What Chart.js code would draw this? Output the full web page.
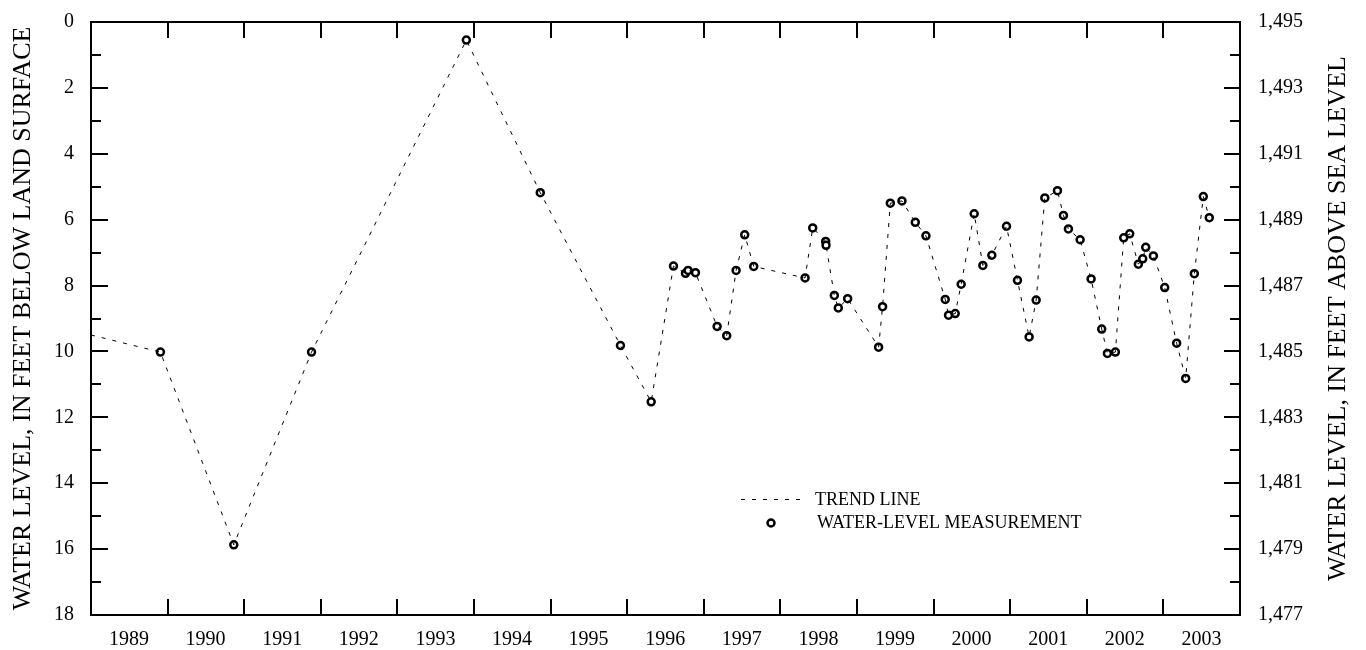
<!DOCTYPE html>
<html lang="en">
<head>
<meta charset="UTF-8">
<title>Water level hydrograph</title>
<script src="https://cdn.jsdelivr.net/npm/chart.js"></script>
<style>
    html, body { margin: 0; padding: 0; background: #fff; }
    #wrap { width: 1366px; height: 650px; }
</style>
</head>
<body>
<div id="wrap"><canvas id="grafico" width="1366" height="650"></canvas></div>
<script>
    // measurement dates (decimal years) and depth to water, ft below land surface
    const measureYears = [
        1989.906, 1990.864, 1991.879, 1993.900, 1994.865, 1995.912, 1996.313,
        1996.604, 1996.761, 1996.795, 1996.891, 1997.174, 1997.299, 1997.422,
        1997.534, 1997.652, 1998.322, 1998.422, 1998.591, 1998.596, 1998.704,
        1998.756, 1998.878, 1999.282, 1999.334, 1999.435, 1999.587, 1999.761,
        1999.900, 2000.152, 2000.195, 2000.282, 2000.360, 2000.530, 2000.643,
        2000.760, 2000.952, 2001.095, 2001.247, 2001.339, 2001.452, 2001.617,
        2001.695, 2001.760, 2001.913, 2002.056, 2002.195, 2002.269, 2002.373,
        2002.482, 2002.560, 2002.673, 2002.730, 2002.769, 2002.869, 2003.017,
        2003.173, 2003.291, 2003.404, 2003.521, 2003.599
    ];
    const measureDepths = [
        10.02, 15.87, 10.02, 0.55, 5.18, 9.82, 11.53,
        7.41, 7.63, 7.54, 7.61, 9.24, 9.52, 7.54,
        6.46, 7.42, 7.77, 6.25, 6.66, 6.78, 8.30,
        8.68, 8.40, 9.87, 8.64, 5.50, 5.43, 6.08,
        6.49, 8.42, 8.90, 8.85, 7.96, 5.82, 7.39,
        7.08, 6.20, 7.84, 9.56, 8.44, 5.34, 5.12,
        5.87, 6.28, 6.61, 7.80, 9.32, 10.06, 10.02,
        6.55, 6.43, 7.35, 7.19, 6.84, 7.10, 8.06,
        9.75, 10.82, 7.64, 5.30, 5.94
    ];
    // trend line comes in from the left edge
    const trendStartYear = 1989.0;
    const trendStartDepth = 9.5;

    const yearLabels = ["1989", "1990", "1991", "1992", "1993", "1994", "1995", "1996",
                        "1997", "1998", "1999", "2000", "2001", "2002", "2003"];
    const depthRange = [0, 18];
    const altitudeRange = [1477, 1495];

    const leftTitle = "WATER LEVEL, IN FEET BELOW LAND SURFACE";
    const rightTitle = "WATER LEVEL, IN FEET ABOVE SEA LEVEL";
    const legendTrend = "TREND LINE";
    const legendPoint = "WATER-LEVEL MEASUREMENT";

    const FONT = '"Liberation Serif", "Times New Roman", serif';

    let puntos = measureYears.map((yr, i) => ({ x: yr, y: measureDepths[i] }));
    let tendencia = [{ x: trendStartYear, y: trendStartDepth }].concat(puntos);

    // frame, inward tick marks, axis titles and the legend box
    const decoracion = {
        id: "decoracion",
        afterDraw(chart) {
            const ctx = chart.ctx;
            const a = chart.chartArea;
            const sx = chart.scales.x, sy = chart.scales.y, sy2 = chart.scales.y2;
            ctx.save();
            ctx.strokeStyle = "#000";
            ctx.lineWidth = 2;
            ctx.strokeRect(a.left, a.top, a.right - a.left, a.bottom - a.top);

            ctx.beginPath();
            for (let yr = 1990; yr < 2004; yr++) {
                let px = Math.round(sx.getPixelForValue(yr));
                ctx.moveTo(px, a.top); ctx.lineTo(px, a.top + 16);
                ctx.moveTo(px, a.bottom); ctx.lineTo(px, a.bottom - 16);
            }
            for (let d = depthRange[0] + 1; d < depthRange[1]; d++) {
                let py = Math.round(sy.getPixelForValue(d));
                ctx.moveTo(a.left, py); ctx.lineTo(a.left + (d % 2 === 0 ? 17 : 10), py);
            }
            for (let e = altitudeRange[0] + 1; e < altitudeRange[1]; e++) {
                let py = Math.round(sy2.getPixelForValue(e));
                ctx.moveTo(a.right, py); ctx.lineTo(a.right - (e % 2 === 1 ? 16 : 10), py);
            }
            ctx.stroke();

            // axis titles, both read bottom to top
            let midY = (a.top + a.bottom) / 2;
            ctx.fillStyle = "#000";
            ctx.font = "26px " + FONT;
            ctx.textAlign = "center";
            ctx.textBaseline = "middle";
            ctx.save();
            ctx.translate(23, midY);
            ctx.rotate(-Math.PI / 2);
            ctx.fillText(leftTitle, 0, 0);
            ctx.restore();
            ctx.save();
            ctx.translate(1338, midY);
            ctx.rotate(-Math.PI / 2);
            ctx.fillText(rightTitle, 0, 0);
            ctx.restore();

            // legend
            ctx.font = "18px " + FONT;
            ctx.textAlign = "left";
            ctx.lineWidth = 1;
            ctx.setLineDash([4, 7]);
            ctx.beginPath();
            ctx.moveTo(741, 499.5); ctx.lineTo(806, 499.5);
            ctx.stroke();
            ctx.setLineDash([]);
            ctx.fillText(legendTrend, 815, 500);
            ctx.lineWidth = 2.5;
            ctx.fillStyle = "#fff";
            ctx.beginPath();
            ctx.arc(771, 523, 3.5, 0, Math.PI * 2);
            ctx.fill(); ctx.stroke();
            ctx.fillStyle = "#000";
            ctx.fillText(legendPoint, 817, 523);
            ctx.restore();
        }
    };

    let ctx = document.getElementById("grafico").getContext("2d");
    let chart = new Chart(ctx, {
        type: "scatter",
        data: {
            datasets: [{
                label: legendTrend,
                data: tendencia,
                showLine: true,
                borderColor: "#000",
                borderWidth: 1,
                borderDash: [4, 7],
                pointRadius: 0,
                yAxisID: "y"
            }, {
                label: legendPoint,
                data: puntos,
                showLine: false,
                pointRadius: 3.5,
                pointBorderWidth: 2.5,
                pointBorderColor: "#000",
                pointBackgroundColor: "#fff",
                yAxisID: "y"
            }]
        },
        options: {
            responsive: false,
            animation: false,
            events: [],
            layout: { padding: { top: 19 } },
            plugins: { legend: { display: false }, tooltip: { enabled: false } },
            scales: {
                x: {
                    type: "linear", position: "bottom", min: 1989, max: 2004,
                    grid: { display: false },
                    border: { display: false },
                    ticks: {
                        stepSize: 1, autoSkip: false, maxRotation: 0,
                        labelOffset: 38, padding: 5, color: "#000",
                        font: { family: FONT, size: 20 },
                        callback: v => yearLabels[Math.round(v) - 1989] || ""
                    },
                    afterFit: s => { s.height = 35; }
                },
                y: {
                    type: "linear", position: "left", reverse: true,
                    min: depthRange[0], max: depthRange[1],
                    grid: { display: false },
                    border: { display: false },
                    ticks: { stepSize: 2, padding: 9, color: "#000", font: { family: FONT, size: 20 } },
                    afterFit: s => { s.width = 91; }
                },
                y2: {
                    type: "linear", position: "right",
                    min: altitudeRange[0], max: altitudeRange[1],
                    grid: { display: false },
                    border: { display: false },
                    ticks: {
                        stepSize: 2, padding: 10, color: "#000", font: { family: FONT, size: 20 },
                        callback: v => v.toLocaleString("en-US")
                    },
                    afterFit: s => { s.width = 126; }
                }
            }
        },
        plugins: [decoracion]
    });
</script>
</body>
</html>
